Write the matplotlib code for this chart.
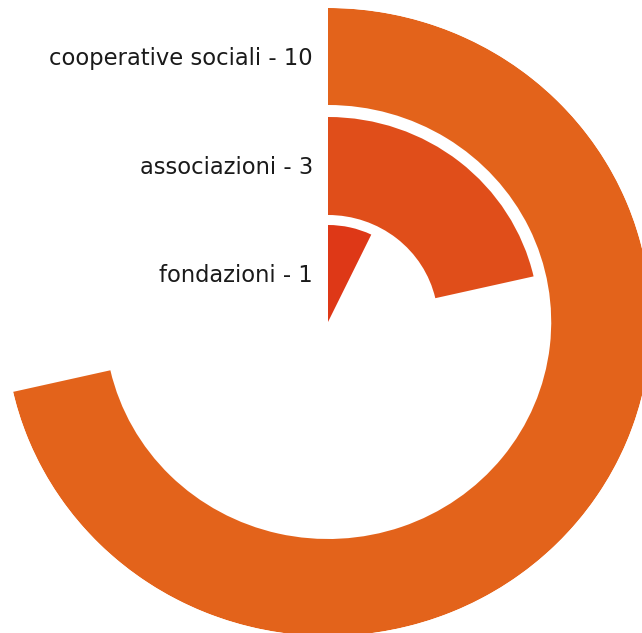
import numpy as np
from matplotlib import pyplot as plt

categories = ['cooperative sociali', 'associazioni', 'fondazioni']
values = [10, 3, 1]
colors = ['#E3631B', '#E04E1A', '#DE3817']

W, H = 642, 633
cx, cy = 328, 322  # centre in pixels
Rx, Ry = 323, 314  # the chart is a bit wider than tall

fig = plt.figure(figsize=(W / 100, H / 100), dpi=100)
ax = fig.add_axes([(cx - Rx) / W, (H - cy - Ry) / H, 2 * Rx / W, 2 * Ry / H],
                  projection='polar')
ax.set_aspect('auto')
ax.set_theta_zero_location('N')
ax.set_theta_direction(-1)

total = sum(values)
# ring radii (in vertical pixels), outer -> inner
bottoms = [217, 107, 0]
tops = [314, 205, 97]

for cat, val, col, b, t in zip(categories, values, colors, bottoms, tops):
    theta = val / total * 2 * np.pi
    ax.bar(0, t - b, width=theta, bottom=b, align='edge', color=col,
           edgecolor='none')
    y_pix = cy - (b + t) / 2 + 8.5  # baseline
    fig.text((cx - 15) / W, 1 - y_pix / H, f'{cat} - {val}',
             ha='right', va='baseline', fontsize=16.3, color='#1a1a1a')

ax.set_ylim(0, Ry)
ax.set_axis_off()

fig.savefig('out.png', dpi=100)
